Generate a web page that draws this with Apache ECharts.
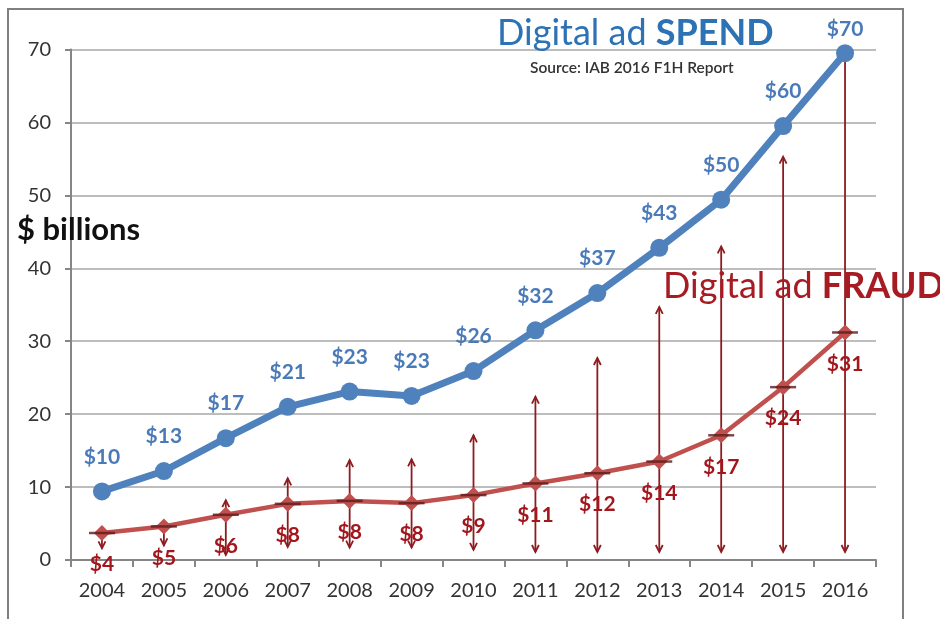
<!DOCTYPE html>
<html>
<head>
<meta charset="utf-8">
<script src="https://cdn.jsdelivr.net/npm/echarts@6/dist/echarts.min.js"></script>
<style>
  html, body { margin: 0; padding: 0; background: #ffffff; }
  #chart { width: 940px; height: 619px; }
</style>
</head>
<body>
<div id="chart"></div>
<script>
// Years on the x axis
const years = ['2004', '2005', '2006', '2007', '2008', '2009', '2010', '2011', '2012', '2013', '2014', '2015', '2016'];
// Digital ad spend, $ billions
const spend = [9.4, 12.2, 16.7, 21.0, 23.1, 22.5, 25.9, 31.5, 36.6, 42.8, 49.4, 59.5, 69.5];
const spendLabels = ['$10', '$13', '$17', '$21', '$23', '$23', '$26', '$32', '$37', '$43', '$50', '$60', '$70'];
// Digital ad fraud, $ billions
const fraud = [3.7, 4.6, 6.2, 7.7, 8.1, 7.8, 8.9, 10.5, 11.9, 13.5, 17.1, 23.7, 31.2];
const fraudLabels = ['$4', '$5', '$6', '$8', '$8', '$8', '$9', '$11', '$12', '$14', '$17', '$24', '$31'];
// Range of fraud estimates (arrow ends)
const fraudLow = [1.6, 2.0, 0.7, 1.8, 1.7, 1.7, 1.4, 1.1, 1.1, 1.1, 1.1, 1.1, 1.1];
const fraudHigh = [3.7, 4.6, 8.2, 11.2, 13.7, 13.8, 17.1, 22.4, 27.7, 34.7, 43.0, 55.3, 69.5];
// Y axis ticks
const yMin = 0, yMax = 70, yStep = 10;

const FONT = 'Lato, "Open Sans", sans-serif';
const BLUE = '#4f81bd';
const RED = '#c0504d';
const DARKRED = '#8e1b1f';

const chart = echarts.init(document.getElementById('chart'), null, { renderer: 'canvas' });

function arrowHead(x, y, dir, color) {
  // dir: -1 points up, +1 points down
  return {
    type: 'polyline',
    shape: { points: [[x - 3.5, y - dir * 7], [x, y], [x + 3.5, y - dir * 7]] },
    style: { stroke: color, lineWidth: 1.8, fill: null }
  };
}

const rangeData = years.map((y, i) => [i, fraudLow[i], fraudHigh[i], fraud[i]]);

chart.setOption({
  backgroundColor: '#ffffff',
  animation: false,
  textStyle: { fontFamily: FONT },
  grid: { left: 71, right: 64, top: 49.5, bottom: 59, containLabel: false },
  xAxis: {
    type: 'category',
    data: years,
    boundaryGap: true,
    axisLine: { lineStyle: { color: '#868686', width: 2 } },
    axisTick: { show: true, length: 7, interval: 0, lineStyle: { color: '#868686', width: 2 } },
    axisLabel: { color: '#333333', fontSize: 20, fontFamily: FONT, margin: 21, interval: 0 },
    splitLine: { show: false }
  },
  yAxis: {
    type: 'value',
    min: yMin, max: yMax, interval: yStep,
    axisLine: { show: true, lineStyle: { color: '#868686', width: 2 } },
    axisTick: { show: true, length: 6, lineStyle: { color: '#868686', width: 2 } },
    axisLabel: { color: '#333333', fontSize: 20, fontFamily: FONT, margin: 20 },
    splitLine: { show: true, lineStyle: { color: '#bdbdbd', width: 2 } }
  },
  series: [
    {
      // fraud range arrows
      type: 'custom',
      z: 2,
      data: rangeData,
      renderItem: function (params, api) {
        const lo = api.coord([api.value(0), api.value(1)]);
        const hi = api.coord([api.value(0), Math.max(api.value(2), api.value(3))]);
        const children = [
          { type: 'line', shape: { x1: lo[0], y1: lo[1], x2: hi[0], y2: hi[1] },
            style: { stroke: DARKRED, lineWidth: 1.8 } },
          arrowHead(lo[0], lo[1], 1, DARKRED)
        ];
        if (api.value(2) > api.value(3) + 0.5 && api.value(2) < 69) {
          children.push(arrowHead(hi[0], hi[1], -1, DARKRED));
        }
        return { type: 'group', children: children };
      }
    },
    {
      name: 'Digital ad FRAUD',
      type: 'line',
      z: 3,
      data: fraud,
      lineStyle: { color: RED, width: 4.5 },
      itemStyle: { color: RED },
      symbol: 'diamond',
      symbolSize: 16,
      label: {
        show: true, position: 'bottom', distance: 13,
        color: '#a3161c', fontSize: 21, fontWeight: 'bold', fontFamily: FONT,
        formatter: p => fraudLabels[p.dataIndex]
      }
    },
    {
      // horizontal dash through each fraud marker
      type: 'scatter',
      z: 4,
      data: fraud,
      symbol: 'rect',
      symbolSize: [26, 2.5],
      itemStyle: { color: '#5c1a1a' },
      silent: true
    },
    {
      name: 'Digital ad SPEND',
      type: 'line',
      z: 5,
      data: spend.map((v, i) => i === spend.length - 1
        ? { value: v, label: { distance: 4 } }
        : v),
      lineStyle: { color: BLUE, width: 7 },
      itemStyle: { color: BLUE },
      symbol: 'circle',
      symbolSize: 18,
      label: {
        show: true, position: 'top', distance: 15,
        color: '#4a7ab8', fontSize: 21, fontWeight: 'bold', fontFamily: FONT,
        formatter: p => spendLabels[p.dataIndex]
      }
    }
  ],
  graphic: [
    {
      type: 'rect', z: 100, silent: true,
      shape: { x: 8, y: 9, width: 895, height: 700 },
      style: { fill: null, stroke: '#7f7f7f', lineWidth: 2 }
    },
    {
      type: 'text', z: 101, left: 17, top: 214,
      style: { text: '$ billions', font: 'bold 31px ' + FONT, fill: '#111111' }
    },
    {
      type: 'text', z: 101, left: 497, top: 15,
      style: {
        text: '{r|Digital ad }{b|SPEND}',
        rich: {
          r: { font: '36px ' + FONT, fill: '#2c72b4' },
          b: { font: 'bold 36px ' + FONT, fill: '#2c72b4' }
        }
      }
    },
    {
      type: 'text', z: 101, left: 530, top: 60,
      style: { text: 'Source: IAB 2016 F1H Report', font: '600 15.5px ' + FONT, fill: '#333333' }
    },
    {
      type: 'text', z: 101, left: 663, top: 268,
      style: {
        text: '{r|Digital ad }{b|FRAUD}',
        rich: {
          r: { font: '36px ' + FONT, fill: '#a61c22' },
          b: { font: 'bold 36px ' + FONT, fill: '#a61c22' }
        }
      }
    }
  ]
});
</script>
</body>
</html>
